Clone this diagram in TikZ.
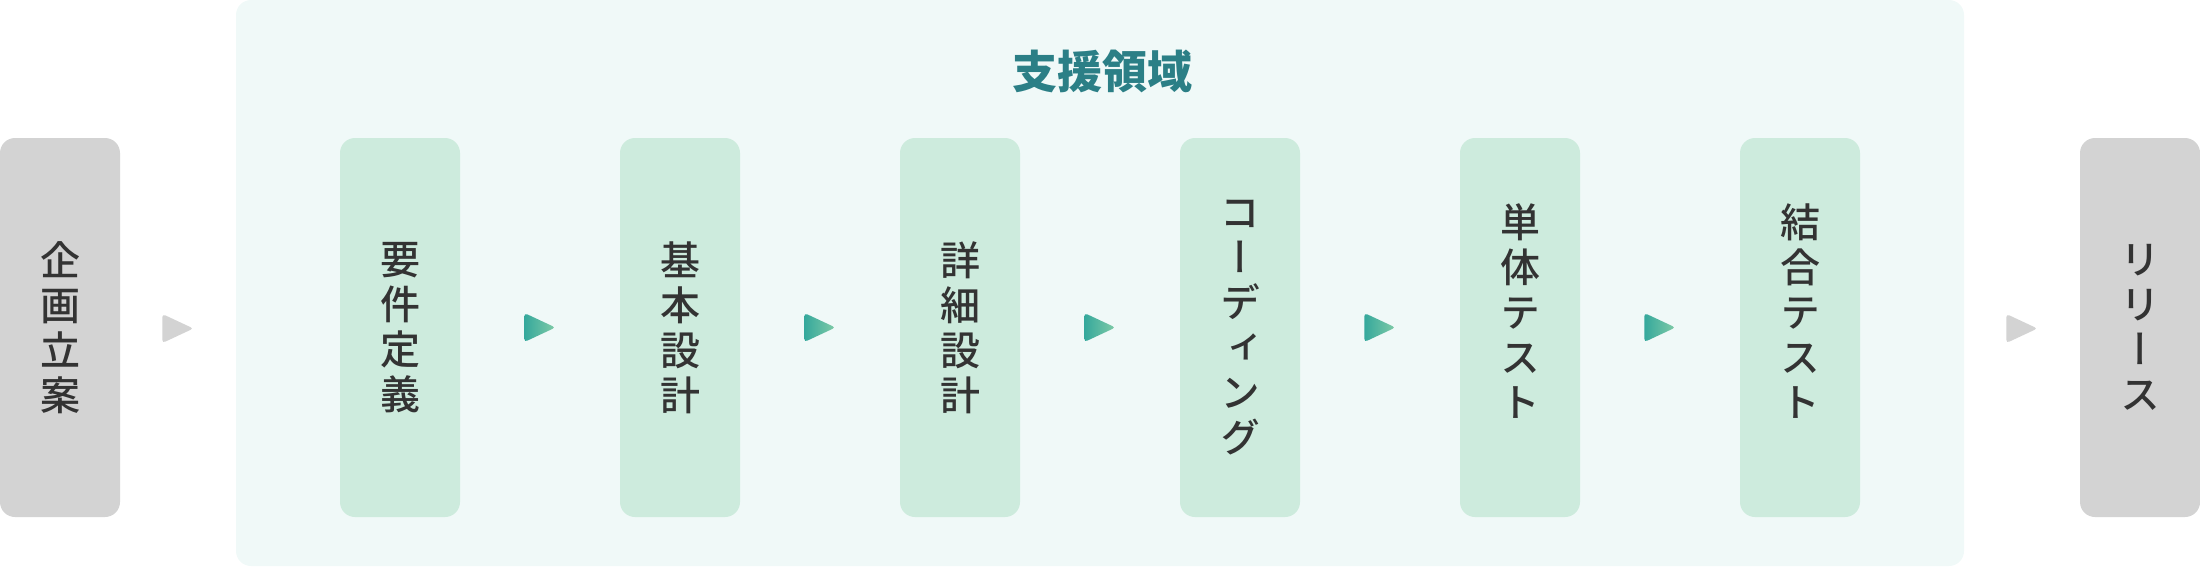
\documentclass[tikz,border=0pt]{standalone}
\usepackage{fontspec}
\usetikzlibrary{positioning,calc,shapes.geometric}
\newfontfamily\jpvert{Noto Sans CJK JP}[UprightFont=* Medium, RawFeature=+vert]
\newfontfamily\jptitle{Noto Sans CJK JP}
\definecolor{panelbg}{HTML}{F0F9F8}
\definecolor{stagefill}{HTML}{CDEBDD}
\definecolor{outerfill}{HTML}{D3D3D3}
\definecolor{textdark}{HTML}{333333}
\definecolor{titleteal}{HTML}{2B7F86}
\definecolor{tipleft}{HTML}{35A89C}
\definecolor{tipright}{HTML}{80CBA7}
\begin{document}
\begin{tikzpicture}[x=1pt, y=-1pt, node distance=280pt,
  stage/.style={rectangle, rounded corners=15pt, minimum width=120pt, minimum height=379pt, fill=stagefill},
  outer/.style={stage, fill=outerfill},
  vtext/.style={align=center, inner sep=0pt, text=textdark, font=\jpvert\fontsize{40}{45}\selectfont},
  tip/.style={isosceles triangle, isosceles triangle stretches, minimum width=29pt, minimum height=31pt, inner sep=0pt, rounded corners=3pt, anchor=west},
  greentip/.style={tip, left color=tipleft, right color=tipright},
  graytip/.style={tip, fill=outerfill}]
  \useasboundingbox (0,0) rectangle (2200,566);
  % support area
  \node[rectangle, rounded corners=15pt, minimum width=1728pt, minimum height=566pt, fill=panelbg] (panel) at (1100,283) {};
  \node[text=titleteal, font=\jptitle\bfseries\fontsize{45}{54}\selectfont] (title) at (1102,71) {支援領域};
  % stages
  \node[outer] (plan) at (60,327.5) {};
  \node[stage] (req) at (400,327.5) {};
  \node[stage] (bas) [right of=req] {};
  \node[stage] (det) [right of=bas] {};
  \node[stage] (cod) [right of=det] {};
  \node[stage] (unt) [right of=cod] {};
  \node[stage] (itg) [right of=unt] {};
  \node[outer] (rel) at (2140,327.5) {};
  \node[vtext] (plan-t) at (plan) {企\\画\\立\\案};
  \node[vtext] (req-t) at (req) {要\\件\\定\\義};
  \node[vtext] (bas-t) at (bas) {基\\本\\設\\計};
  \node[vtext] (det-t) at (det) {詳\\細\\設\\計};
  \node[vtext] (cod-t) at (cod) {コ\\ー\\デ\\ィ\\ン\\グ};
  \node[vtext] (unt-t) at ([yshift=16.5pt]unt.center) {単\\体\\テ\\ス\\ト};
  \node[vtext] (itg-t) at ([yshift=16.5pt]itg.center) {結\\合\\テ\\ス\\ト};
  \node[vtext] (rel-t) at (rel) {リ\\リ\\ー\\ス};
  % flow tips
  \node[graytip] (g1) at ([xshift=42pt,yshift=-1pt]plan.east) {};
  \node[greentip] (a1) at ([xshift=64pt]req.east) {};
  \node[greentip] (a2) at ([xshift=64pt]bas.east) {};
  \node[greentip] (a3) at ([xshift=64pt]det.east) {};
  \node[greentip] (a4) at ([xshift=64pt]cod.east) {};
  \node[greentip] (a5) at ([xshift=64pt]unt.east) {};
  \node[graytip] (g2) at ([xshift=42pt,yshift=-1pt]rel.west -| panel.east) {};
\end{tikzpicture}
\end{document}
